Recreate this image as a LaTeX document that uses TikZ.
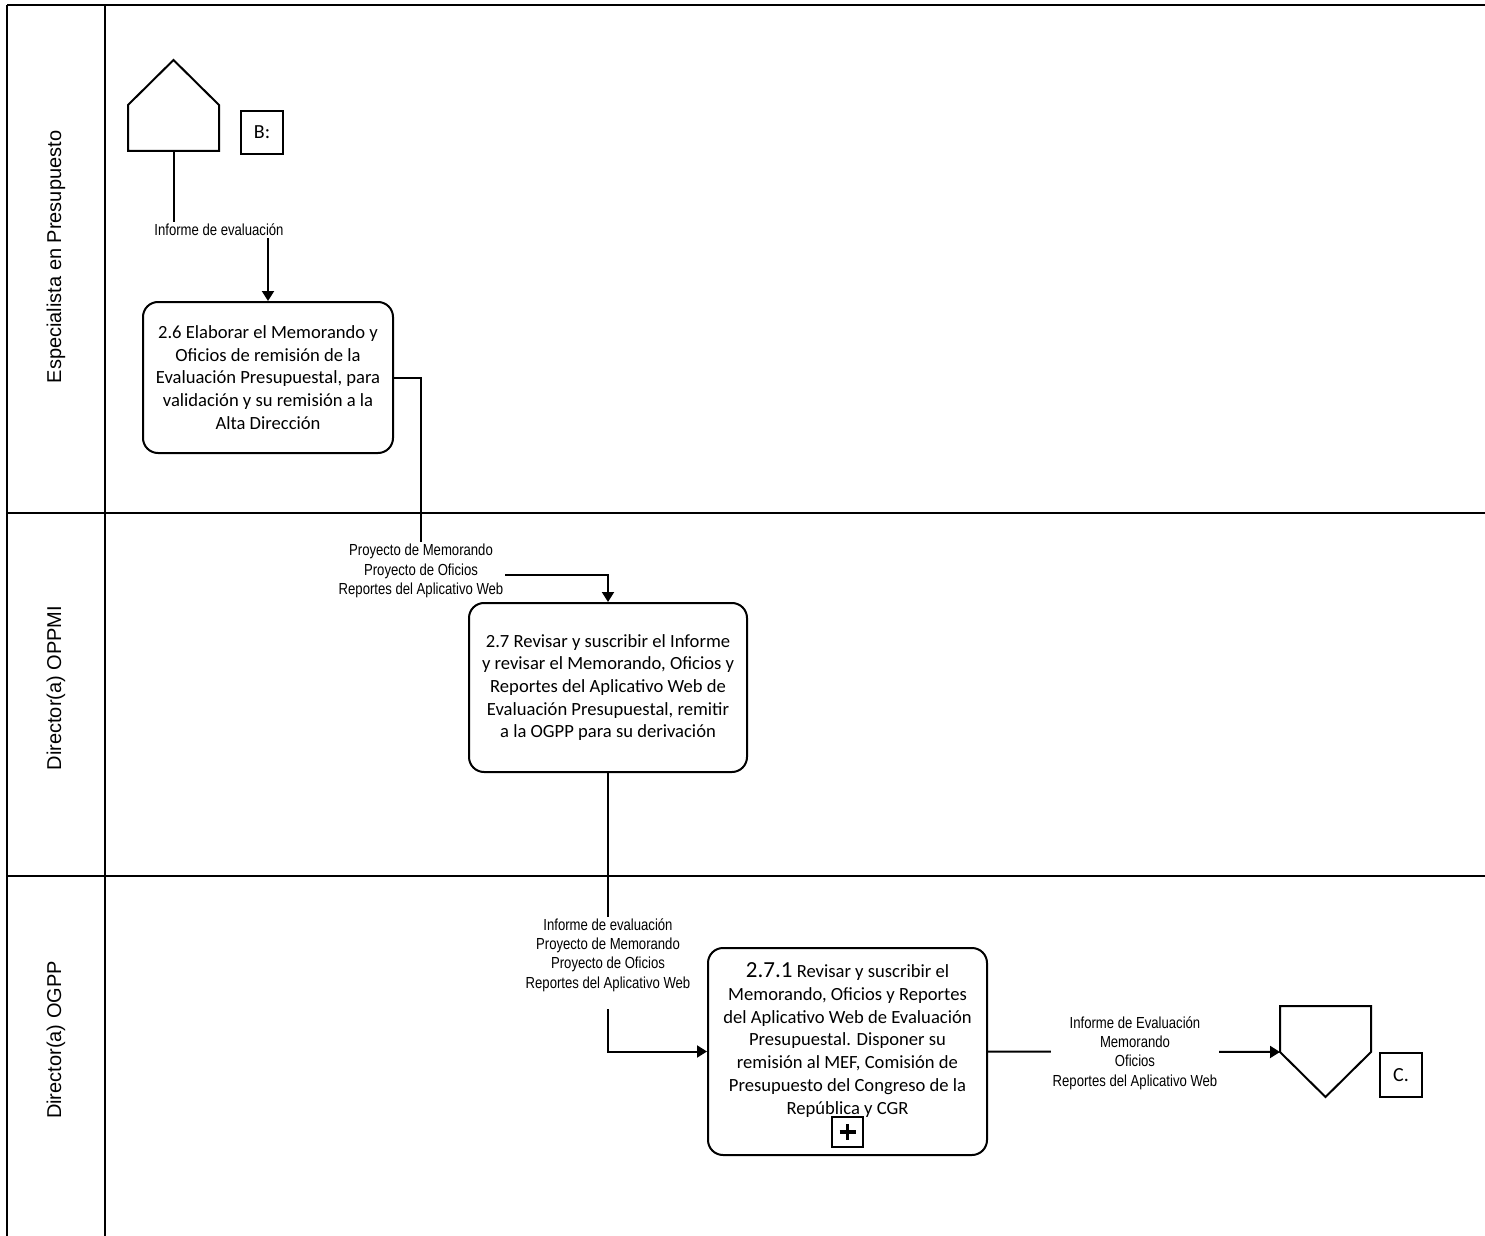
\documentclass[tikz,border=0pt]{standalone}
\usepackage{fontspec}
\setmainfont{Carlito}
\newfontfamily\lanefont{Liberation Sans}
\newfontfamily\narrowfont[FakeStretch=0.82]{Liberation Sans}
\usetikzlibrary{arrows.meta}
\begin{document}
\begin{tikzpicture}[x=0.5pt,y=-0.5pt,
  lane/.style={line width=1.2pt},
  task/.style={draw,line width=1pt,rounded corners=7.5pt,align=center,inner sep=0pt,
    font=\fontsize{9.3}{11.35}\selectfont},
  flow/.style={line width=1pt,-{Triangle[length=5pt,width=6pt]}},
  shapeline/.style={line width=1pt,line join=miter},
  doc/.style={fill=white,inner sep=1pt,align=center,
    font=\narrowfont\fontsize{8}{9.65}\selectfont},
  lanelabel/.style={rotate=90,font=\lanefont\fontsize{10}{12}\selectfont},
  refbox/.style={draw,line width=1pt,inner sep=0pt,font=\fontsize{10}{12}\selectfont}
]
\useasboundingbox (0,0) rectangle (1485,1236);

% swimlanes
\draw[lane] (7,5) -- (1485,5);
\draw[lane] (7,513) -- (1485,513);
\draw[lane] (7,876) -- (1485,876);
\draw[lane] (7,5) -- (7,1236);
\draw[lane] (105,5) -- (105,1236);
\node[lanelabel] (l1) at (56,257) {Especialista en Presupuesto};
\node[lanelabel] (l2) at (56,688) {Director(a) OPPMI};
\node[lanelabel] (l3) at (56,1040) {Director(a) OGPP};

% start off-page connector
\draw[shapeline] (128,151) -- (128,105) -- (173.5,60) -- (219,105) -- (219,151) -- cycle;
\coordinate (startb) at (173.5,151);
\node[refbox,minimum width=21pt,minimum height=21.5pt] (refB) at (262,132.5) {B:};

% tasks
\node[task,minimum width=125pt,minimum height=75.5pt] (t26) at (268,377.5)
  {2.6 Elaborar el Memorando y\\Oficios de remisión de la\\Evaluación Presupuestal, para\\validación y su remisión a la\\Alta Dirección};
\node[task,minimum width=139pt,minimum height=84.5pt] (t27) at (608,687.5)
  {2.7 Revisar y suscribir el Informe\\y revisar el Memorando, Oficios y\\Reportes del Aplicativo Web de\\Evaluación Presupuestal, remitir\\a la OGPP para su derivación};
\node[task,minimum width=139.5pt,minimum height=103.5pt] (t271) at (847.5,1051.5) {};
\node[align=center,inner sep=0pt,font=\fontsize{9.3}{11.35}\selectfont] (t271text) at (847.5,1040)
  {{\fontsize{11.5}{11.35}\selectfont 2.7.1} Revisar y suscribir el\\Memorando, Oficios y Reportes\\del Aplicativo Web de Evaluación\\Presupuestal. Disponer su\\remisión al MEF, Comisión de\\Presupuesto del Congreso de la\\República y CGR};
\node[draw,line width=1pt,minimum width=15.5pt,minimum height=15pt,inner sep=0pt] (t271m) at (847.5,1132) {};
\draw[line width=1.7pt] (839.5,1132) -- (855.5,1132) (847.5,1124) -- (847.5,1140);

% end off-page connector
\draw[shapeline] (1280,1006) -- (1371,1006) -- (1371,1052) -- (1325.5,1097) -- (1280,1052) -- cycle;
\coordinate (endin) at (1280,1052);
\node[refbox,minimum width=21pt,minimum height=22pt] (refC) at (1401,1075) {C.};

% connectors
\draw[flow] (startb) |- (219,230) -| (t26.north);
\draw[flow] (t26.east) -| (421,575) -| (t27.north);
\draw[flow] (t27.south) |- (t271.west);
\draw[flow] (t271.east) -- (endin);

% connector labels
\node[doc] (d1) at (219,230) {Informe de evaluación};
\node[doc] (d2) at (421,571) {Proyecto de Memorando\\Proyecto de Oficios\\Reportes del Aplicativo Web};
\node[doc] (d3) at (608,963) {Informe de evaluación\\Proyecto de Memorando\\Proyecto de Oficios\\Reportes del Aplicativo Web\\\mbox{}};
\node[doc] (d4) at (1135,1053) {Informe de Evaluación\\Memorando\\Oficios\\Reportes del Aplicativo Web};
\end{tikzpicture}
\end{document}
